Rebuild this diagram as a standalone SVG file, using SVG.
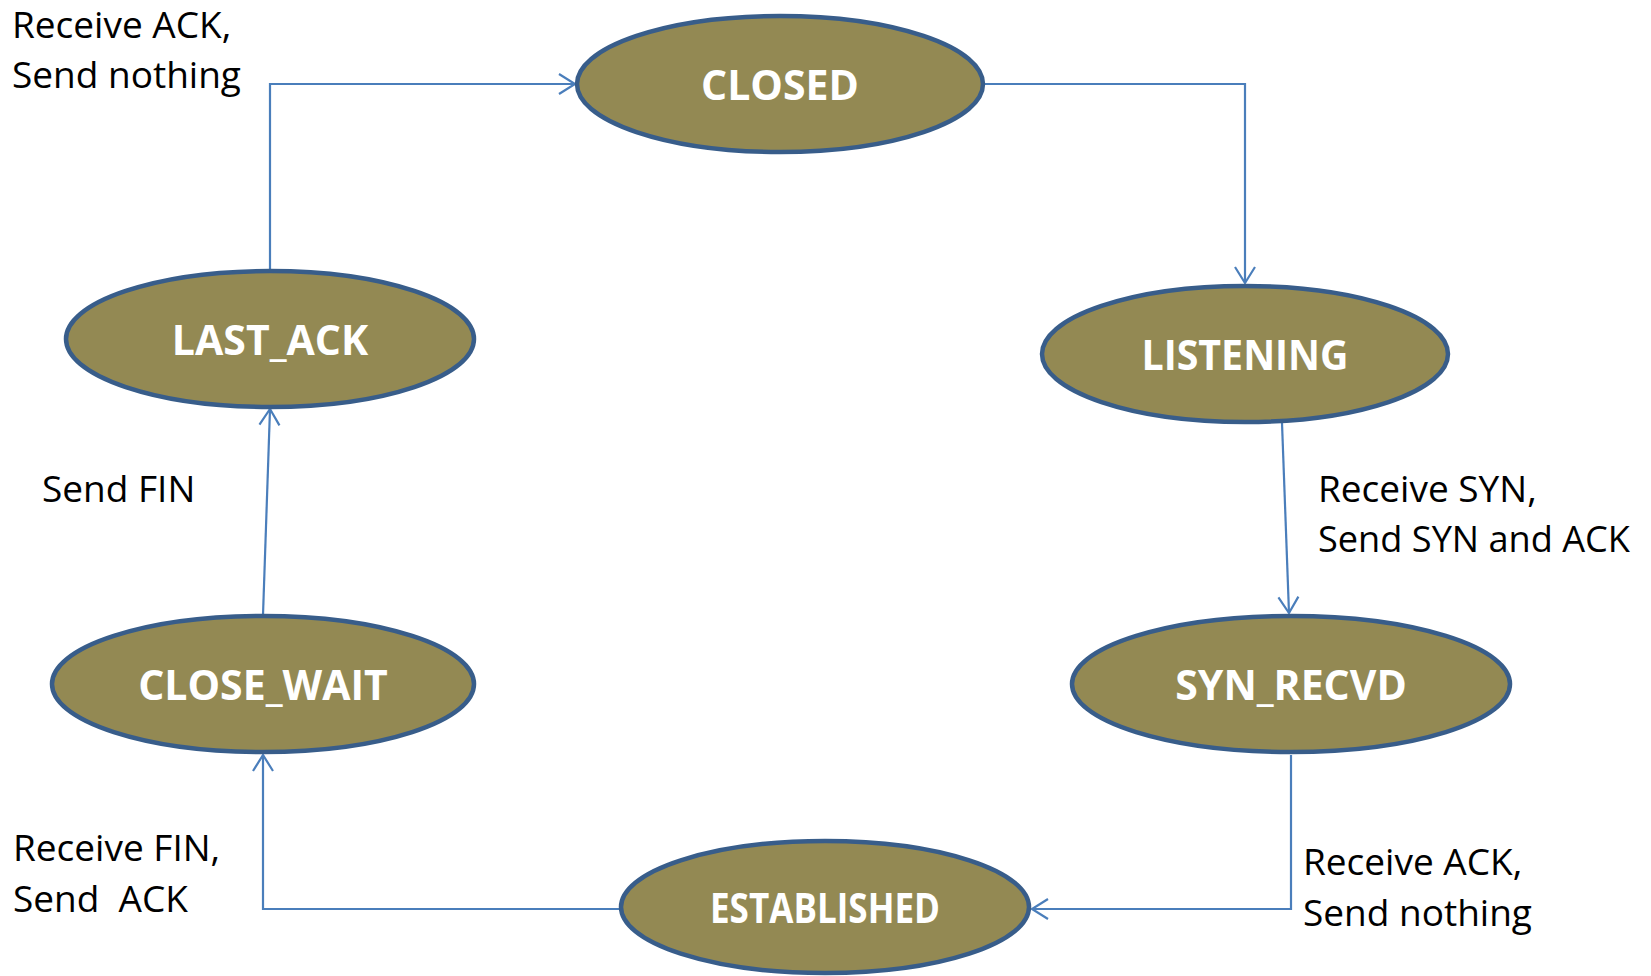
<svg xmlns="http://www.w3.org/2000/svg" width="1651" height="976" viewBox="0 0 1651 976">
  <style>
    .state ellipse { fill: #938953; stroke: #385d8a; stroke-width: 4.5; }
    .state text { font-family: "Open Sans", "Liberation Sans", sans-serif; font-weight: bold; font-size: 41px; fill: #ffffff; text-anchor: middle; }
    .edge { fill: none; stroke: #4a7ebb; stroke-width: 2.2; marker-end: url(#arrow); }
    .label { font-family: "Open Sans", "Liberation Sans", sans-serif; font-size: 37px; fill: #000000; }
  </style>
  <defs>
    <marker id="arrow" markerUnits="userSpaceOnUse" markerWidth="24" markerHeight="24" viewBox="-18 -12 20 24" refX="0" refY="0" orient="auto">
      <path d="M -16 -10 L 0 0 L -16 10" fill="none" stroke="#4a7ebb" stroke-width="2.2"/>
    </marker>
  </defs>
  <rect width="1651" height="976" fill="#ffffff"/>

  <!-- transitions -->
  <g id="connectors">
    <path class="edge" d="M 270 270 V 84 H 575"/>
    <path class="edge" d="M 984 84 H 1245 V 283"/>
    <path class="edge" d="M 1282 423 L 1289 613"/>
    <path class="edge" d="M 1291 755 V 909 H 1032"/>
    <path class="edge" d="M 621 909 H 263 V 755"/>
    <path class="edge" d="M 263 615 L 270 409"/>
  </g>

  <!-- states -->
  <g id="closed" class="state">
    <ellipse cx="780" cy="84" rx="203" ry="68"/>
    <text x="780" y="100">CLOSED</text>
  </g>
  <g id="listening" class="state">
    <ellipse cx="1245" cy="354" rx="203" ry="68"/>
    <text x="1245" y="370" textLength="207" lengthAdjust="spacingAndGlyphs">LISTENING</text>
  </g>
  <g id="syn_recvd" class="state">
    <ellipse cx="1291" cy="684" rx="219" ry="68"/>
    <text x="1291" y="700">SYN_RECVD</text>
  </g>
  <g id="established" class="state">
    <ellipse cx="825" cy="907" rx="204" ry="66"/>
    <text x="825" y="923" textLength="230" lengthAdjust="spacingAndGlyphs">ESTABLISHED</text>
  </g>
  <g id="close_wait" class="state">
    <ellipse cx="263" cy="684" rx="211" ry="68"/>
    <text x="263" y="700">CLOSE_WAIT</text>
  </g>
  <g id="last_ack" class="state">
    <ellipse cx="270" cy="339" rx="204" ry="68"/>
    <text x="270" y="355">LAST_ACK</text>
  </g>

  <!-- transition labels -->
  <g id="labels">
    <text class="label" x="12" y="38">Receive ACK,</text>
    <text class="label" x="12" y="88">Send nothing</text>
    <text class="label" x="1318" y="502">Receive SYN,</text>
    <text class="label" x="1318" y="552" textLength="312" lengthAdjust="spacingAndGlyphs">Send SYN and ACK</text>
    <text class="label" x="1303" y="875">Receive ACK,</text>
    <text class="label" x="1303" y="926">Send nothing</text>
    <text class="label" x="13" y="861">Receive FIN,</text>
    <text class="label" x="13" y="912" xml:space="preserve">Send  ACK</text>
    <text class="label" x="42" y="502">Send FIN</text>
  </g>
</svg>
